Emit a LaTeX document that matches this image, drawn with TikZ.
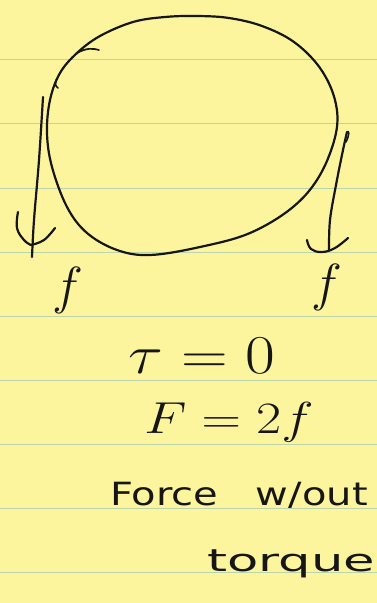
\documentclass[tikz,border=0pt]{standalone}
\usepackage{fontspec}
\newfontfamily\handfont{DejaVu Sans}
\definecolor{padyellow}{RGB}{253,245,158}
\definecolor{rulegreen}{RGB}{188,212,172}
\definecolor{ink}{RGB}{22,22,22}
\tikzset{
  pen/.style={draw=ink, line width=2.2pt, line cap=round, line join=round},
  ruling/.style={draw=rulegreen, line width=1pt},
  label/.style={text=ink, inner sep=0pt}
}
\begin{document}
\begin{tikzpicture}[x=1pt,y=-1pt]
  \fill[padyellow] (0,0) rectangle (377,603);
  \useasboundingbox (0,0) rectangle (377,603);
  % ruled lines
  \foreach \yy in {59,123,188,252,316,380,444,508,572}
    \draw[ruling] (0,\yy) -- (377,\yy);
  % the body (blob)
  \draw[pen] plot[smooth cycle, tension=0.6] coordinates {
    (197,16) (229,18) (262,26) (294,42) (320,68) (335,100) (336,133)
    (320,175) (293,207) (250,233) (200,247) (150,255) (117,250) (87,233)
    (67,207) (52,167) (47,133) (50,100) (60,73) (77,53) (100,36) (133,22) (165,17)};
  % small extra strokes at top-left
  \draw[pen, line width=1.7pt] (77,53) .. controls (86,48) and (93,48) .. (99,50);
  \draw[pen, line width=1.6pt] (58,88) .. controls (55,86) and (55,83) .. (56,80);
  % left force arrow
  \draw[pen] plot[smooth, tension=0.6] coordinates {(43,97) (39,160) (34,220) (32,257)};
  \draw[pen] plot[smooth, tension=0.7] coordinates {(18,212) (17,228) (24,240) (31,245)};
  \draw[pen] plot[smooth, tension=0.7] coordinates {(55,228) (44,240) (31,245)};
  % right force arrow
  \draw[pen] plot[smooth, tension=0.6] coordinates {(347,132) (343,150) (336,185) (330,220) (329,250)};
  \draw[pen, line width=1.6pt] (347,132) .. controls (349,130) and (350,134) .. (346,142);
  \draw[pen] plot[smooth, tension=0.7] coordinates {(307,240) (311,249) (322,252) (335,248) (348,238)};
  % labels
  \node[label, font=\Huge, scale=2.1] (fL) at (68,290) {$f$};
  \node[label, font=\Huge, scale=2.1] (fR) at (327,287) {$f$};
  \node[label, font=\Huge, xscale=2.6, yscale=2.2] (tau) at (202,356) {$\tau = 0$};
  \node[label, font=\Huge, xscale=2.2, yscale=1.8] (Feq) at (229,422) {$F = 2f$};
  \node[label, font=\handfont\fontsize{32}{32}\selectfont, xscale=1.25, anchor=base] (force) at (239,505) {Force\hspace{30pt}w/out};
  \node[label, font=\handfont\fontsize{31}{31}\selectfont, xscale=1.65, anchor=base] (torque) at (291,571) {torque};
\end{tikzpicture}
\end{document}
